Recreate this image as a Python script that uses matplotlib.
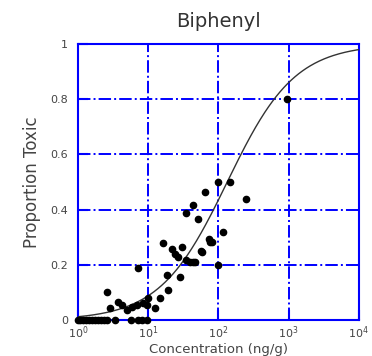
import numpy as np
import matplotlib
matplotlib.use('Agg')
import matplotlib.pyplot as plt
from matplotlib.ticker import NullLocator, FixedLocator

plt.rcParams['font.family'] = ['DejaVu Sans']

# Наблюдения: концентрация (ng/g) и доля токсичных проб
conc = [1.0, 1.07, 1.18, 1.3, 1.43, 1.58, 1.75, 1.93, 2.13, 2.34, 2.59, 3.36, 5.69, 7.14, 8.14, 9.6,
        2.56, 7.2, 2.85, 3.75, 4.2, 4.94, 5.8, 6.85, 8.5, 9.5, 10.0, 12.5, 14.7, 19.3, 18.3, 28.3,
        16.0, 21.6, 24.0, 26.8, 30.0, 35.0, 39.0, 44.0, 46.0, 56.0, 57.6, 74.0, 80.0, 75.0,
        99.0, 117.0, 51.6, 35.0, 43.0, 64.0, 97.7, 145.0, 245.0, 960.0]
prop = [0.0, 0.0, 0.0, 0.0, 0.0, 0.0, 0.0, 0.0, 0.0, 0.0, 0.0, 0.0, 0.0, 0.0, 0.0, 0.0,
        0.10, 0.187, 0.042, 0.066, 0.054, 0.036, 0.048, 0.054, 0.06, 0.054, 0.079, 0.042, 0.079, 0.109, 0.163, 0.155,
        0.278, 0.256, 0.241, 0.229, 0.263, 0.217, 0.21, 0.211, 0.21, 0.251, 0.247, 0.293, 0.284, 0.284,
        0.20, 0.318, 0.366, 0.389, 0.417, 0.465, 0.499, 0.499, 0.437, 0.80]

# Параметры логистической модели: p = 1/(1+exp(-(a + b*log10(x))))
a_fit = -4.42
b_fit = 2.08

xs = np.logspace(0, 4, 300)
ys = 1.0 / (1.0 + np.exp(-(a_fit + b_fit * np.log10(xs))))

fig = plt.figure(figsize=(3.72, 3.56), dpi=100)
ax = fig.add_axes([0.2097, 0.1011, 0.755, 0.775])

blue = '#0000ff'
ax.set_xscale('log')
ax.set_xlim(1, 1e4)
ax.set_ylim(0, 1)

ax.grid(True, color=blue, linestyle='-.', linewidth=1.4)
ax.set_axisbelow(True)
for s in ax.spines.values():
    s.set_color(blue)
    s.set_linewidth(1.5)

ax.plot(xs, ys, color='#333333', linewidth=1.0, zorder=3)
ax.plot(conc, prop, 'o', color='black', markersize=4.5, zorder=4, clip_on=False)

ax.xaxis.set_major_locator(FixedLocator([1, 10, 100, 1000, 10000]))
ax.xaxis.set_minor_locator(NullLocator())
ax.set_xticklabels(['$10^0$', '$10^1$', '$10^2$', '$10^3$', '$10^4$'])
ax.set_yticks([0, 0.2, 0.4, 0.6, 0.8, 1])
ax.set_yticklabels(['0', '0.2', '0.4', '0.6', '0.8', '1'])
ax.tick_params(direction='in', length=7, width=1.5, color=blue,
               labelsize=8, labelcolor='#444444', pad=7)
ax.tick_params(axis='x', pad=3)

ax.set_title('Biphenyl', fontsize=14, color='#333333', pad=12)
ax.set_ylabel('Proportion Toxic', fontsize=12, color='#444444', labelpad=7)
ax.set_xlabel('Concentration (ng/g)', fontsize=9.5, color='#444444', va='bottom')
ax.xaxis.set_label_coords(0.5, -0.129)

fig.savefig('out.png', dpi=100)
